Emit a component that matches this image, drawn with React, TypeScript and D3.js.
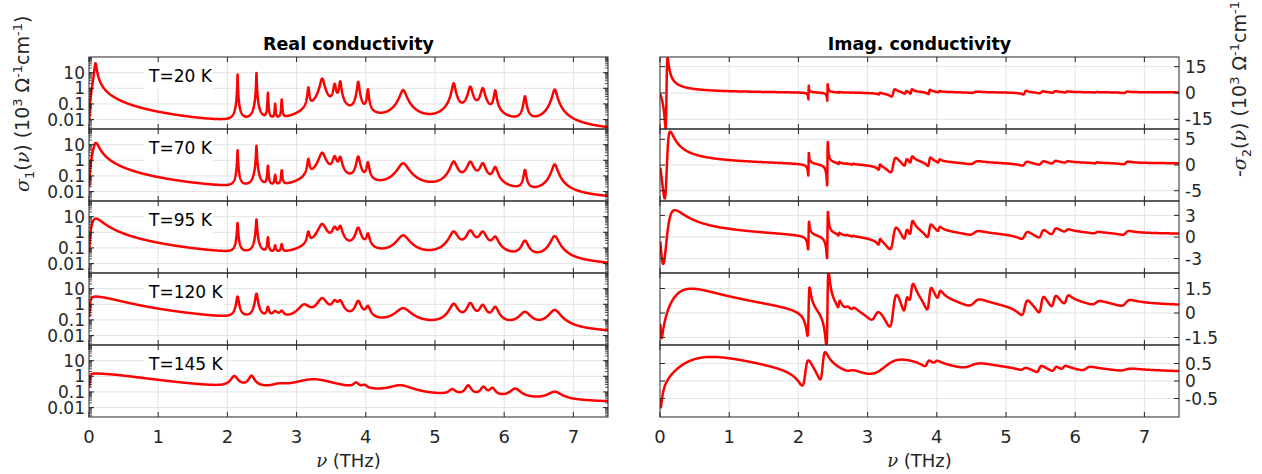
import React from 'react';
import * as d3 from 'd3';

// ---------- data ----------
const tempLabels = ['T=20 K', 'T=70 K', 'T=95 K', 'T=120 K', 'T=145 K'];
// oscillators: [centre frequency (THz), peak sigma1 (10^3 /Ohm/cm), width (THz)]
const osc20K = [
  [0.094, 40, 0.028], [2.147, 8, 0.005], [2.42, 9.5, 0.006], [2.585, 0.5, 0.008],
  [2.69, 0.09, 0.01], [2.785, 0.18, 0.01], [3.17, 1.07, 0.02], [3.37, 4.2, 0.05],
  [3.55, 1.8, 0.03], [3.63, 2.7, 0.025], [3.89, 2.6, 0.025], [4.03, 0.83, 0.02],
  [4.54, 0.76, 0.08], [5.27, 2.1, 0.04], [5.51, 1.25, 0.05], [5.69, 1.0, 0.05],
  [5.87, 0.71, 0.03], [6.3, 0.3, 0.03], [6.73, 0.83, 0.055],
];
const osc70K = [
  [0.1, 13, 0.08], [2.147, 4.5, 0.008], [2.42, 8.5, 0.009], [2.585, 0.42, 0.012],
  [2.69, 0.09, 0.015], [2.785, 0.2, 0.015], [3.17, 1.1, 0.025], [3.37, 3.0, 0.08],
  [3.55, 1.6, 0.05], [3.63, 1.45, 0.04], [3.89, 1.7, 0.04], [4.03, 0.69, 0.03],
  [4.54, 0.63, 0.13], [5.27, 0.8, 0.08], [5.51, 0.76, 0.08], [5.69, 0.59, 0.07],
  [5.87, 0.33, 0.06], [6.3, 0.23, 0.03], [6.73, 0.54, 0.07],
];
const osc95K = [
  [0.1, 7.5, 0.17], [2.147, 3.9, 0.012], [2.42, 6.5, 0.013], [2.585, 0.42, 0.015],
  [2.69, 0.09, 0.02], [2.785, 0.12, 0.02], [3.17, 0.9, 0.03], [3.37, 3.3, 0.1],
  [3.55, 1.8, 0.06], [3.63, 2.2, 0.05], [3.89, 1.9, 0.06], [4.03, 0.7, 0.04],
  [4.54, 0.6, 0.15], [5.27, 1.07, 0.1], [5.51, 1.2, 0.09], [5.69, 1.0, 0.09],
  [5.87, 0.43, 0.08], [6.3, 0.26, 0.08], [6.73, 0.55, 0.1],
];
const osc120K = [
  [0.1, 3.1, 0.45], [2.147, 3.0, 0.03], [2.42, 4.7, 0.03], [2.585, 0.5, 0.03],
  [2.69, 0.2, 0.08], [2.785, 0.2, 0.06], [3.11, 0.8, 0.15], [3.37, 2.3, 0.12],
  [3.55, 1.3, 0.07], [3.63, 1.4, 0.07], [3.89, 1.5, 0.07], [4.03, 0.6, 0.06],
  [4.54, 0.5, 0.2], [5.27, 1.0, 0.1], [5.51, 1.1, 0.08], [5.69, 0.8, 0.08],
  [5.87, 0.6, 0.08], [6.3, 0.28, 0.15], [6.73, 0.4, 0.15],
];
const osc145K = [
  [0.1, 1.5, 0.8], [2.1, 0.8, 0.1], [2.35, 0.85, 0.08], [2.75, 0.1, 0.2],
  [3.25, 0.55, 0.6], [3.86, 0.2, 0.08], [3.98, 0.1, 0.08], [4.5, 0.18, 0.35],
  [5.25, 0.08, 0.1], [5.48, 0.2, 0.08], [5.7, 0.15, 0.08], [5.83, 0.12, 0.08],
  [6.16, 0.12, 0.15], [6.73, 0.07, 0.2],
];
const oscByTemp = [osc20K, osc70K, osc95K, osc120K, osc145K];

const xTicks = [0, 1, 2, 3, 4, 5, 6, 7];
const xDomain = [0, 7.5];
const realTicks = [0.01, 0.1, 1, 10];
const realTickLabels = ['0.01', '0.1', '1', '10'];
const realDomain = [0.0025, 100];
const imagTicks = [[-15, 0, 15], [-5, 0, 5], [-3, 0, 3], [-1.5, 0, 1.5], [-0.5, 0, 0.5]];
const imagDomains = [[-20.5, 20.5], [-7, 7], [-5, 5], [-1.96, 2.45], [-1.03, 1.03]];

// ---------- layout ----------
const W = 1262, H = 474;
const LX0 = 89, LX1 = 608, RX0 = 660, RX1 = 1179;
const TOP = 57, ROWH = 72;
const FONT = '"DejaVu Sans", sans-serif';
const AX = '#262626';
const GRID = '#e3e3e3';
const RED = '#ff0000';
const TICKFS = 17;

// frequency grid
const nus: number[] = [];
for (let i = 0; i <= 2998; i++) nus.push(0.005 + i * 0.0025);

function response(osc: number[][], nu: number): [number, number] {
  let re = 0, im = 0;
  for (const [w0, h, g] of osc) {
    const a = w0 * w0 - nu * nu;
    const d = a * a + g * g * nu * nu;
    re += (h * g * g * nu * nu) / d;
    im += (h * g * nu * -a) / d;
  }
  return [re, im];
}

function AxisTitle({ prefix, sub }: { prefix: string; sub: string }) {
  return (
    <>
      {prefix ? <tspan>{prefix}</tspan> : null}
      <tspan fontStyle="italic" fontFamily='"DejaVu Serif", serif'>σ</tspan>
      <tspan fontSize={13} dy={5}>{sub}</tspan>
      <tspan dy={-5}>(</tspan>
      <tspan fontStyle="italic" fontFamily='"DejaVu Serif", serif'>ν</tspan>
      <tspan>) (10</tspan>
      <tspan fontSize={13} dy={-7}>3</tspan>
      <tspan dy={7}> Ω</tspan>
      <tspan fontSize={13} dy={-7}>-1</tspan>
      <tspan dy={7}>cm</tspan>
      <tspan fontSize={13} dy={-7}>-1</tspan>
      <tspan dy={7}>)</tspan>
    </>
  );
}

export default function App() {
  const xL = d3.scaleLinear().domain(xDomain).range([LX0, LX1]);
  const xR = d3.scaleLinear().domain(xDomain).range([RX0, RX1]);

  const minorVals: number[] = [];
  for (let k = -3; k <= 1; k++) for (let m = 2; m <= 9; m++) {
    const v = m * Math.pow(10, k);
    if (v > realDomain[0] && v < realDomain[1]) minorVals.push(v);
  }

  const rows = oscByTemp.map((osc, i) => {
    const y0 = TOP + i * ROWH, y1 = y0 + ROWH;
    const yL = d3.scaleLog().domain(realDomain).range([y1, y0]);
    const yR = d3.scaleLinear().domain(imagDomains[i]).range([y1, y0]);
    const pts = nus.map((nu) => [nu, ...response(osc, nu)]);
    const lineL = d3.line<number[]>().x((d) => xL(d[0])).y((d) => yL(Math.max(d[1], 1e-6)));
    const lineR = d3.line<number[]>().x((d) => xR(d[0])).y((d) => yR(d[2]));
    return { i, y0, y1, yL, yR, dL: lineL(pts) || '', dR: lineR(pts) || '' };
  });

  const tick = 5, minor = 3;

  return (
    <svg width={W} height={H} style={{ position: 'absolute', left: 0, top: 0, background: '#fff' }}
      fontFamily={FONT}>
      <defs>
        {rows.map((r) => (
          <React.Fragment key={r.i}>
            <clipPath id={`cl${r.i}`}><rect x={LX0} y={r.y0} width={LX1 - LX0} height={ROWH} /></clipPath>
            <clipPath id={`cr${r.i}`}><rect x={RX0} y={r.y0} width={RX1 - RX0} height={ROWH} /></clipPath>
          </React.Fragment>
        ))}
      </defs>
      <rect x={0} y={0} width={W} height={H} fill="#fff" />

      {/* titles */}
      <text x={(LX0 + LX1) / 2} y={50} textAnchor="middle" fontWeight="bold" fontSize={17.5} fill="#000">Real conductivity</text>
      <text x={(RX0 + RX1) / 2} y={50} textAnchor="middle" fontWeight="bold" fontSize={17.5} fill="#000">Imag. conductivity</text>

      {rows.map((r) => (
        <g key={r.i}>
          {/* ---- left (real, log) ---- */}
          {xTicks.filter((t) => t > 0).map((t) => (
            <line key={'gx' + t} x1={xL(t)} x2={xL(t)} y1={r.y0} y2={r.y1} stroke={GRID} strokeWidth={1} />
          ))}
          {realTicks.map((t) => (
            <line key={'gy' + t} x1={LX0} x2={LX1} y1={r.yL(t)} y2={r.yL(t)} stroke={GRID} strokeWidth={1} />
          ))}
          {/* temperature label with white box */}
          <rect x={144} y={r.y0 + 6} width={tempLabels[r.i].length * 10.2 + 8} height={26} fill="#fff" />
          <text x={149} y={r.y0 + 25} fontSize={17} fill="#000">{tempLabels[r.i]}</text>
          <path d={r.dL} fill="none" stroke={RED} strokeWidth={2.5} strokeLinejoin="round" clipPath={`url(#cl${r.i})`} />
          {/* ticks */}
          {xTicks.map((t) => (
            <g key={'tx' + t}>
              <line x1={xL(t)} x2={xL(t)} y1={r.y0} y2={r.y0 + tick} stroke={AX} />
              <line x1={xL(t)} x2={xL(t)} y1={r.y1} y2={r.y1 - tick} stroke={AX} />
            </g>
          ))}
          {realTicks.map((t) => (
            <g key={'ty' + t}>
              <line x1={LX0} x2={LX0 + tick} y1={r.yL(t)} y2={r.yL(t)} stroke={AX} />
              <line x1={LX1} x2={LX1 - tick} y1={r.yL(t)} y2={r.yL(t)} stroke={AX} />
            </g>
          ))}
          {minorVals.map((t) => (
            <g key={'tm' + t}>
              <line x1={LX0} x2={LX0 + minor} y1={r.yL(t)} y2={r.yL(t)} stroke={AX} strokeWidth={0.8} />
              <line x1={LX1} x2={LX1 - minor} y1={r.yL(t)} y2={r.yL(t)} stroke={AX} strokeWidth={0.8} />
            </g>
          ))}
          {realTicks.map((t, j) => (
            <text key={'tl' + t} x={85} y={r.yL(t)} dy="0.36em" textAnchor="end" fontSize={TICKFS} fill={AX}>{realTickLabels[j]}</text>
          ))}
          <rect x={LX0} y={r.y0} width={LX1 - LX0} height={ROWH} fill="none" stroke={AX} strokeWidth={1} />

          {/* ---- right (imag, linear) ---- */}
          {xTicks.filter((t) => t > 0).map((t) => (
            <line key={'rgx' + t} x1={xR(t)} x2={xR(t)} y1={r.y0} y2={r.y1} stroke={GRID} strokeWidth={1} />
          ))}
          {imagTicks[r.i].map((t) => (
            <line key={'rgy' + t} x1={RX0} x2={RX1} y1={r.yR(t)} y2={r.yR(t)} stroke={GRID} strokeWidth={1} />
          ))}
          <path d={r.dR} fill="none" stroke={RED} strokeWidth={2.5} strokeLinejoin="round" clipPath={`url(#cr${r.i})`} />
          {xTicks.map((t) => (
            <g key={'rtx' + t}>
              <line x1={xR(t)} x2={xR(t)} y1={r.y0} y2={r.y0 + tick} stroke={AX} />
              <line x1={xR(t)} x2={xR(t)} y1={r.y1} y2={r.y1 - tick} stroke={AX} />
            </g>
          ))}
          {imagTicks[r.i].map((t) => (
            <g key={'rty' + t}>
              <line x1={RX0} x2={RX0 + tick} y1={r.yR(t)} y2={r.yR(t)} stroke={AX} />
              <line x1={RX1} x2={RX1 - tick} y1={r.yR(t)} y2={r.yR(t)} stroke={AX} />
              <text x={RX1 + 6} y={r.yR(t)} dy="0.36em" fontSize={TICKFS} fill={AX}>{String(t)}</text>
            </g>
          ))}
          <rect x={RX0} y={r.y0} width={RX1 - RX0} height={ROWH} fill="none" stroke={AX} strokeWidth={1} />
        </g>
      ))}

      {/* x tick labels & axis titles */}
      {xTicks.map((t) => (
        <g key={'xl' + t}>
          <text x={xL(t)} y={437} dy="0.36em" textAnchor="middle" fontSize={18} fill={AX}>{t}</text>
          <text x={xR(t)} y={437} dy="0.36em" textAnchor="middle" fontSize={18} fill={AX}>{t}</text>
        </g>
      ))}
      {[LX0, RX0].map((x0, k) => (
        <text key={'xt' + k} x={x0 + (LX1 - LX0) / 2} y={467} textAnchor="middle" fontSize={18} fill={AX}>
          <tspan fontStyle="italic" fontFamily='"DejaVu Serif", serif'>ν</tspan> (THz)
        </text>
      ))}

      {/* y axis titles */}
      <text transform="translate(29,192) rotate(-90)" fontSize={19} fill={AX}>
        <AxisTitle prefix="" sub="1" />
      </text>
      <text transform="translate(1246,177) rotate(-90)" fontSize={19} fill={AX}>
        <AxisTitle prefix="-" sub="2" />
      </text>
    </svg>
  );
}
